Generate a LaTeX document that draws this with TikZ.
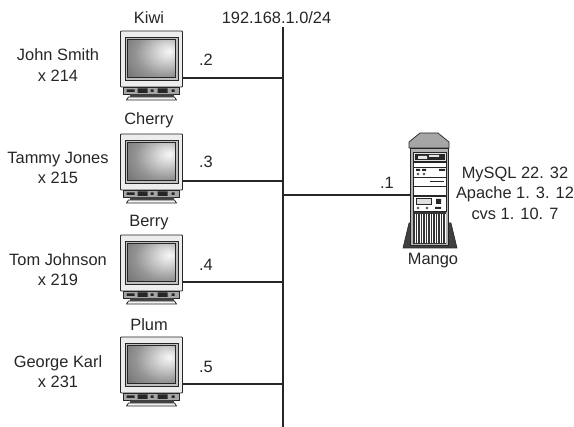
\documentclass[tikz,border=0pt]{standalone}
\usepackage{fontspec}
\setmainfont{Liberation Sans}
\usepackage{tikz}
\usetikzlibrary{positioning,calc}
\pgfdeclareradialshading{crt}{\pgfpoint{19bp}{10bp}}{
  color(0bp)=(black!3); color(10bp)=(black!15); color(30bp)=(black!42); color(55bp)=(black!62); color(80bp)=(black!78); color(100bp)=(black!80)}
\tikzset{
  lbl/.style={font=\fontsize{16.4}{20.5}\selectfont, text=black!85, align=center, inner sep=0pt},
  net/.style={draw=black!85, line width=1.8pt},
  case/.style={draw=black!85, line width=0.7pt, fill=black!7},
  dark/.style={fill=black!85, draw=none},
  monitor/.pic={
    \draw[case, line width=0.9pt, rounded corners=0.8pt] (0,0) rectangle (62,56);
    \draw[draw=black!85, line width=0.7pt, fill=black!25] (4.5,6) rectangle (57.5,49);
    \draw[draw=black!85, line width=0.9pt, shading=crt] (7,8.5) rectangle (55,46.5);
    \draw[case, fill=black!35] (3,56) rectangle (59,63);
    \fill[dark] (6,58.5) rectangle (14,61) (17,57.5) rectangle (27,62) (30,58.5) rectangle (33,61)
      (37,57.5) rectangle (47,62) (51,58.5) rectangle (54,61);
    \fill[black!75] (9,63.5) rectangle (53,66);
    \draw[case, fill=black!5] (6,69) -- (8,66) -- (54,66) -- (56,69) -- cycle;
    \coordinate (-port) at (62,47);
  },
  server/.pic={
    % feet and top
    \draw[draw=black!85, fill=black!75, line width=0.6pt] (0,115) -- (6,90) -- (48,90) -- (54,115) -- cycle;
    \draw[case, fill=black!35] (6,15) -- (6,9) -- (17,0) -- (35,0) -- (46,9) -- (46,15) -- cycle;
    \draw[case, fill=black!30] (7,15) rectangle (45,112);
    % drives
    \draw[draw=black!85, fill=black!12] (10,19) rectangle (43,28);
    \fill[dark] (12,21) rectangle (42,27);
    \fill[black!10] (15,23) rectangle (24,26) (26,22) rectangle (36,24);
    \draw[case, fill=white] (10,29) rectangle (43,34);
    \draw[case, fill=white] (10,34) rectangle (43,44);
    \fill[dark] (36,36) rectangle (42,38) (13,36) rectangle (17,38) (19,36) rectangle (23,38);
    \draw[draw=black!85, fill=black!25] (15,41) circle (1.2) (21,41) circle (1.2);
    \draw[case, fill=white] (10,44) rectangle (43,53);
    \draw[draw=black!85, line width=1pt] (27,49) -- (41,49);
    \draw[case, fill=white] (10,53) rectangle (43,62);
    \draw[case, fill=white] (10,63) rectangle (43,78);
    \draw[draw=black!85, fill=black!12] (13,65) rectangle (28,71);
    \fill[dark] (33,66) rectangle (38,71) (32,74) rectangle (38,76);
    \draw[draw=black!85, fill=black!25] (15,75) circle (1.2) (24,75) circle (1.2);
    % vents
    \fill[black!80] (10,79) rectangle (43,111);
    \foreach \vx in {12,14.5,...,42} {\draw[white, line width=0.5pt] (\vx,81) -- (\vx,110);}
    \coordinate (-port) at (7,62);
  }
}
\begin{document}
\begin{tikzpicture}[x=1pt, y=-1pt]
  \useasboundingbox (0,0) rectangle (574,427);
  % hosts
  \pic (kiwi) at (120.5,31) {monitor};
  \pic (cherry) at (120.5,134) {monitor};
  \pic (berry) at (120.5,235) {monitor};
  \pic (plum) at (120.5,337) {monitor};
  \pic (mango) at (403,133) {server};
  % network
  \coordinate (bustop) at (283,27);
  \coordinate (busend) at (283,427);
  \draw[net] (bustop) -- (busend);
  \draw[net] (kiwi-port) -- (kiwi-port -| bustop);
  \draw[net] (cherry-port) -- (cherry-port -| bustop);
  \draw[net] (berry-port) -- (berry-port -| bustop);
  \draw[net] (plum-port) -- (plum-port -| bustop);
  \draw[net] (mango-port) -- (mango-port -| bustop);
  % texts
  \node[lbl] (lkiwi) at (149,18) {Kiwi};
  \node[lbl] (lcherry) at (149,120.5) {Cherry};
  \node[lbl] (lberry) at (149,223) {Berry};
  \node[lbl] (lplum) at (149,324.5) {Plum};
  \node[lbl] (lnet) at (276.5,18) {192.168.1.0/24};
  \node[lbl] (ljohn) at (58,65) {John Smith\\x 214};
  \node[lbl] (ltammy) at (58,168) {Tammy Jones\\x 215};
  \node[lbl] (ltom) at (58,269.5) {Tom Johnson\\x 219};
  \node[lbl] (lgeorge) at (58,371.5) {George Karl\\x 231};
  \node[lbl] (ip2) at (206,59.5) {.2};
  \node[lbl] (ip3) at (206,162) {.3};
  \node[lbl] (ip4) at (206,264.5) {.4};
  \node[lbl] (ip5) at (206,366.5) {.5};
  \node[lbl] (ip1) at (387,183) {.1};
  \node[lbl] (lmango) at (433,261) {Mango};
  \node[lbl] (lsoft) at (515,193) {MySQL 22. 32\\Apache 1. 3. 12\\cvs 1. 10. 7};
\end{tikzpicture}
\end{document}
